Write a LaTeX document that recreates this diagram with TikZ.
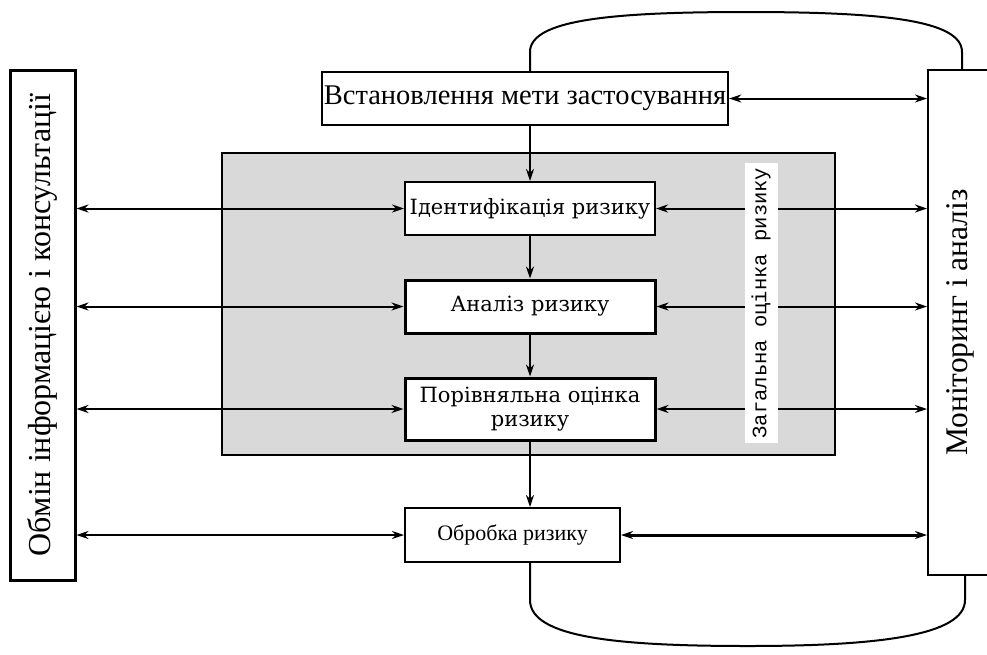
\documentclass[tikz,border=0pt]{standalone}
\usepackage{fontspec}
\setmainfont{Liberation Serif}
\newfontfamily\wideserif{DejaVu Serif}
\newfontfamily\monofont{Liberation Mono}
\usetikzlibrary{arrows.meta}

\tikzset{
    stage/.style={draw,line width=2pt,fill=white,inner sep=2pt,minimum height=53pt},
    sidebox/.style={draw,fill=white,rotate=90,inner sep=0pt},
    twoway/.style={{Stealth[length=12pt,width=8pt]}-{Stealth[length=12pt,width=8pt]},line width=2pt},
    oneway/.style={-{Stealth[length=12pt,width=8pt]},line width=2pt},
}

\begin{document}
\begin{tikzpicture}[x=1pt,y=-1pt]
    \useasboundingbox (0,0) rectangle (987,654);
    % shaded block
    \draw[line width=2pt,fill=gray!30] (222,153) rectangle (835,455);
    % side boxes
    \node[sidebox,line width=3pt,minimum width=510pt,minimum height=65pt,font=\fontsize{32}{36}\selectfont] (obmin) at (42.5,325) {Обмін інформацією і консультації};
    \node[sidebox,line width=2pt,minimum width=505pt,minimum height=64pt,font=\fontsize{31.5}{36}\selectfont] (monit) at (960,322.5) {Моніторинг і аналіз};
    % stages
    \node[stage,minimum width=406pt,font=\fontsize{28.5}{32}\selectfont] (meta) at (525,98.5) {Встановлення мети застосування};
    \node[stage,minimum width=250pt,font=\wideserif\fontsize{21}{25}\selectfont] (ident) at (530,208.5) {Ідентифікація ризику};
    \node[stage,line width=3pt,minimum width=250pt,font=\wideserif\fontsize{21}{25}\selectfont] (analiz) at (530,306.5) {Аналіз ризику};
    \node[stage,line width=3pt,minimum width=250pt,minimum height=62pt,align=center,font=\wideserif\fontsize{21}{24}\selectfont] (porivn) at (530,409) {Порівняльна оцінка\\ризику};
    \node[stage,minimum width=215pt,minimum height=54pt,font=\fontsize{22}{26}\selectfont] (obrob) at (512.5,535) {Обробка ризику};
    % downward flow
    \draw[oneway] (meta.south -| ident.north) -- (ident.north);
    \draw[oneway] (ident) -- (analiz);
    \draw[oneway] (analiz) -- (porivn);
    \draw[oneway] (porivn.south) -- (porivn.south |- obrob.north);
    % links to the left box
    \draw[twoway] (ident.west -| obmin.south) -- (ident.west);
    \draw[twoway] (analiz.west -| obmin.south) -- (analiz.west);
    \draw[twoway] (porivn.west -| obmin.south) -- (porivn.west);
    \draw[twoway] (obrob.west -| obmin.south) -- (obrob.west);
    % links to the right box
    \draw[twoway] (meta.east) -- (meta.east -| monit.north);
    \draw[twoway] (ident.east) -- (ident.east -| monit.north);
    \draw[twoway] (analiz.east) -- (analiz.east -| monit.north);
    \draw[twoway] (porivn.east) -- (porivn.east -| monit.north);
    \draw[twoway,line width=3pt] (obrob.east) -- (obrob.east -| monit.north);
    \node[fill=white,rotate=90,inner sep=0pt,minimum width=280pt,minimum height=33pt,font=\monofont\fontsize{20.5}{24}\selectfont] (zagal) at (761,303) {Загальна оцінка ризику};
    % feedback loops
    \coordinate (topL) at (530,72);
    \coordinate (topR) at (962,70);
    \coordinate (botL) at (530,562);
    \coordinate (botR) at (965,575);
    \draw[line width=2pt] (topL) -- (530,52) .. controls (530,20) and (610,12) .. (746,12) .. controls (882,12) and (962,20) .. (962,52) -- (topR);
    \draw[line width=2pt] (botL) -- (530,600) .. controls (530,638) and (620,646) .. (748,646) .. controls (876,646) and (965,636) .. (965,600) -- (botR);
\end{tikzpicture}
\end{document}
